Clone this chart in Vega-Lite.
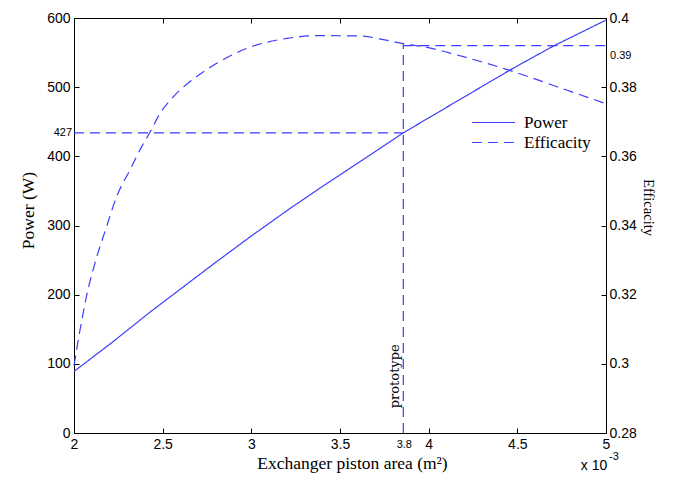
{
  "$schema": "https://vega.github.io/schema/vega-lite/v6.json",
  "width": 532,
  "height": 415,
  "autosize": {"type": "none"},
  "padding": {"left": 74, "top": 18, "right": 69, "bottom": 46},
  "background": "white",
  "config": {
    "view": {"stroke": "black", "strokeWidth": 1},
    "axis": {
      "domain": false, "ticks": true, "tickColor": "black", "tickWidth": 1, "tickOpacity": 1,
      "labelColor": "black", "titleColor": "black",
      "grid": false, "labelFont": "Liberation Sans", "labelFontSize": 14,
      "titleFont": "Liberation Serif", "titleFontSize": 17.5, "titleFontWeight": "normal",
      "tickSize": 5, "offset": -5, "labelPadding": 4, "labelFlush": false, "format": "~r"
    },
    "text": {"font": "Liberation Sans", "fontSize": 11, "color": "black"}
  },
  "datasets": {
    "power": [
      {"area": 2.0, "power": 89, "series": "Power"},
      {"area": 2.21, "power": 130, "series": "Power"},
      {"area": 2.43, "power": 175, "series": "Power"},
      {"area": 2.79, "power": 245, "series": "Power"},
      {"area": 2.99, "power": 283, "series": "Power"},
      {"area": 3.22, "power": 325, "series": "Power"},
      {"area": 3.41, "power": 358, "series": "Power"},
      {"area": 3.67, "power": 402, "series": "Power"},
      {"area": 3.857, "power": 434, "series": "Power"},
      {"area": 4.46, "power": 525, "series": "Power"},
      {"area": 4.7, "power": 559, "series": "Power"},
      {"area": 5.0, "power": 597, "series": "Power"}
    ],
    "eff": [
      {"area": 2.0, "efficacity": 0.2995, "series": "Efficacity"},
      {"area": 2.034, "efficacity": 0.3098, "series": "Efficacity"},
      {"area": 2.07, "efficacity": 0.3194, "series": "Efficacity"},
      {"area": 2.118, "efficacity": 0.3291, "series": "Efficacity"},
      {"area": 2.184, "efficacity": 0.3397, "series": "Efficacity"},
      {"area": 2.24, "efficacity": 0.3483, "series": "Efficacity"},
      {"area": 2.316, "efficacity": 0.3561, "series": "Efficacity"},
      {"area": 2.382, "efficacity": 0.3628, "series": "Efficacity"},
      {"area": 2.43, "efficacity": 0.3671, "series": "Efficacity"},
      {"area": 2.485, "efficacity": 0.3724, "series": "Efficacity"},
      {"area": 2.56, "efficacity": 0.3772, "series": "Efficacity"},
      {"area": 2.69, "efficacity": 0.383, "series": "Efficacity"},
      {"area": 2.805, "efficacity": 0.3869, "series": "Efficacity"},
      {"area": 2.974, "efficacity": 0.3912, "series": "Efficacity"},
      {"area": 3.2, "efficacity": 0.3941, "series": "Efficacity"},
      {"area": 3.39, "efficacity": 0.3949, "series": "Efficacity"},
      {"area": 3.61, "efficacity": 0.3948, "series": "Efficacity"},
      {"area": 3.76, "efficacity": 0.3936, "series": "Efficacity"},
      {"area": 3.876, "efficacity": 0.3924, "series": "Efficacity"},
      {"area": 3.97, "efficacity": 0.3917, "series": "Efficacity"},
      {"area": 4.21, "efficacity": 0.3886, "series": "Efficacity"},
      {"area": 4.46, "efficacity": 0.3848, "series": "Efficacity"},
      {"area": 4.72, "efficacity": 0.3802, "series": "Efficacity"},
      {"area": 5.0, "efficacity": 0.3752, "series": "Efficacity"}
    ],
    "refPower": [{"x1": 2, "x2": 3.857, "p": 434}],
    "refVert": [{"x": 3.857, "p1": 0, "p2": 562}],
    "refEff": [{"x1": 3.857, "x2": 5, "e": 0.392}],
    "lbl427": [{"area": 2, "power": 434, "label": "427"}],
    "lbl38": [{"area": 3.857, "power": 0, "label": "3.8"}],
    "lblProto": [{"area": 3.81, "power": 82, "label": "prototype"}],
    "lblExp": [{"area": 5, "power": 0, "label": "x 10", "sup": "-3"}],
    "lbl039": [{"area": 5, "efficacity": 0.392, "label": "0.39"}]
  },
  "layer": [
    {
      "layer": [
        {
          "data": {"name": "power"},
          "mark": {"type": "line", "color": "#3d3dff", "strokeWidth": 1.2},
          "encoding": {
            "x": {"field": "area", "type": "quantitative", "scale": {"domain": [2, 5], "nice": false},
              "axis": {"values": [2, 2.5, 3, 3.5, 4, 4.5, 5], "ticks": true, "tickSize": 5, "title": "Exchanger piston area (m²)", "titlePadding": 3, "titleX": 278}},
            "y": {"field": "power", "type": "quantitative", "scale": {"domain": [0, 600], "nice": false},
              "axis": {"values": [0, 100, 200, 300, 400, 500, 600], "ticks": true, "tickSize": 5, "title": "Power (W)", "orient": "left", "titlePadding": 9, "titleY": 192}},
            "strokeDash": {"field": "series", "type": "nominal",
              "scale": {"domain": ["Power", "Efficacity"], "range": [[1, 0], [10, 6]]},
              "legend": {"orient": "none", "legendX": 411, "legendY": 96, "title": null, "padding": 0,
                "symbolType": "M-4.3,0H4.3", "symbolSize": 100, "symbolStrokeWidth": 1, "rowPadding": 2,
                "labelFont": "Liberation Serif", "labelFontSize": 17, "labelColor": "black", "labelOffset": 22,
                "encode": {"symbols": {"update": {"stroke": {"value": "#3aa0ff"}}}}}}
          }
        },
        {
          "data": {"name": "refPower"},
          "mark": {"type": "rule", "color": "#3d3dff", "strokeWidth": 1.2, "strokeDash": [10, 6]},
          "encoding": {
            "x": {"field": "x1", "type": "quantitative"},
            "x2": {"field": "x2"},
            "y": {"field": "p", "type": "quantitative"}
          }
        },
        {
          "data": {"name": "refVert"},
          "mark": {"type": "rule", "color": "#3d3dff", "strokeWidth": 1.2, "strokeDash": [10, 6]},
          "encoding": {
            "x": {"field": "x", "type": "quantitative"},
            "y": {"field": "p1", "type": "quantitative"},
            "y2": {"field": "p2"}
          }
        },
        {
          "data": {"name": "lbl427"},
          "mark": {"type": "text", "align": "right", "baseline": "middle", "dx": -2},
          "encoding": {
            "x": {"field": "area", "type": "quantitative"},
            "y": {"field": "power", "type": "quantitative"},
            "text": {"field": "label"}
          }
        },
        {
          "data": {"name": "lbl38"},
          "mark": {"type": "text", "align": "center", "baseline": "top", "dy": 6, "dx": 1},
          "encoding": {
            "x": {"field": "area", "type": "quantitative"},
            "y": {"field": "power", "type": "quantitative"},
            "text": {"field": "label"}
          }
        },
        {
          "data": {"name": "lblProto"},
          "mark": {"type": "text", "align": "center", "baseline": "middle", "angle": 270, "font": "DejaVu Serif", "fontSize": 13},
          "encoding": {
            "x": {"field": "area", "type": "quantitative"},
            "y": {"field": "power", "type": "quantitative"},
            "text": {"field": "label"}
          }
        },
        {
          "data": {"name": "lblExp"},
          "mark": {"type": "text", "align": "center", "baseline": "middle", "dx": -12, "dy": 33, "fontSize": 14},
          "encoding": {
            "x": {"field": "area", "type": "quantitative"},
            "y": {"field": "power", "type": "quantitative"},
            "text": {"field": "label"}
          }
        },
        {
          "data": {"name": "lblExp"},
          "mark": {"type": "text", "align": "left", "baseline": "middle", "dx": 3, "dy": 24, "fontSize": 11},
          "encoding": {
            "x": {"field": "area", "type": "quantitative"},
            "y": {"field": "power", "type": "quantitative"},
            "text": {"field": "sup"}
          }
        }
      ]
    },
    {
      "layer": [
        {
          "data": {"name": "eff"},
          "mark": {"type": "line", "color": "#3d3dff", "strokeWidth": 1.2, "interpolate": "monotone"},
          "encoding": {
            "x": {"field": "area", "type": "quantitative", "scale": {"domain": [2, 5], "nice": false},
              "axis": {"orient": "top", "values": [2, 2.5, 3, 3.5, 4, 4.5, 5], "ticks": true, "tickSize": 5, "labels": false, "title": null}},
            "y": {"field": "efficacity", "type": "quantitative", "scale": {"domain": [0.28, 0.4], "nice": false},
              "axis": {"orient": "right", "values": [0.28, 0.3, 0.32, 0.34, 0.36, 0.38, 0.4], "ticks": true, "tickSize": 5, "title": "Efficacity", "titleFontSize": 14.5, "labelPadding": 3, "titlePadding": 4, "titleY": 189}},
            "strokeDash": {"field": "series", "type": "nominal"}
          }
        },
        {
          "data": {"name": "refEff"},
          "mark": {"type": "rule", "color": "#3d3dff", "strokeWidth": 1.2, "strokeDash": [10, 6]},
          "encoding": {
            "x": {"field": "x1", "type": "quantitative"},
            "x2": {"field": "x2"},
            "y": {"field": "e", "type": "quantitative"}
          }
        },
        {
          "data": {"name": "lbl039"},
          "mark": {"type": "text", "align": "left", "baseline": "middle", "dx": 4, "dy": 10},
          "encoding": {
            "x": {"field": "area", "type": "quantitative"},
            "y": {"field": "efficacity", "type": "quantitative"},
            "text": {"field": "label"}
          }
        }
      ]
    }
  ],
  "resolve": {"scale": {"y": "independent"}, "axis": {"x": "independent"}}
}
